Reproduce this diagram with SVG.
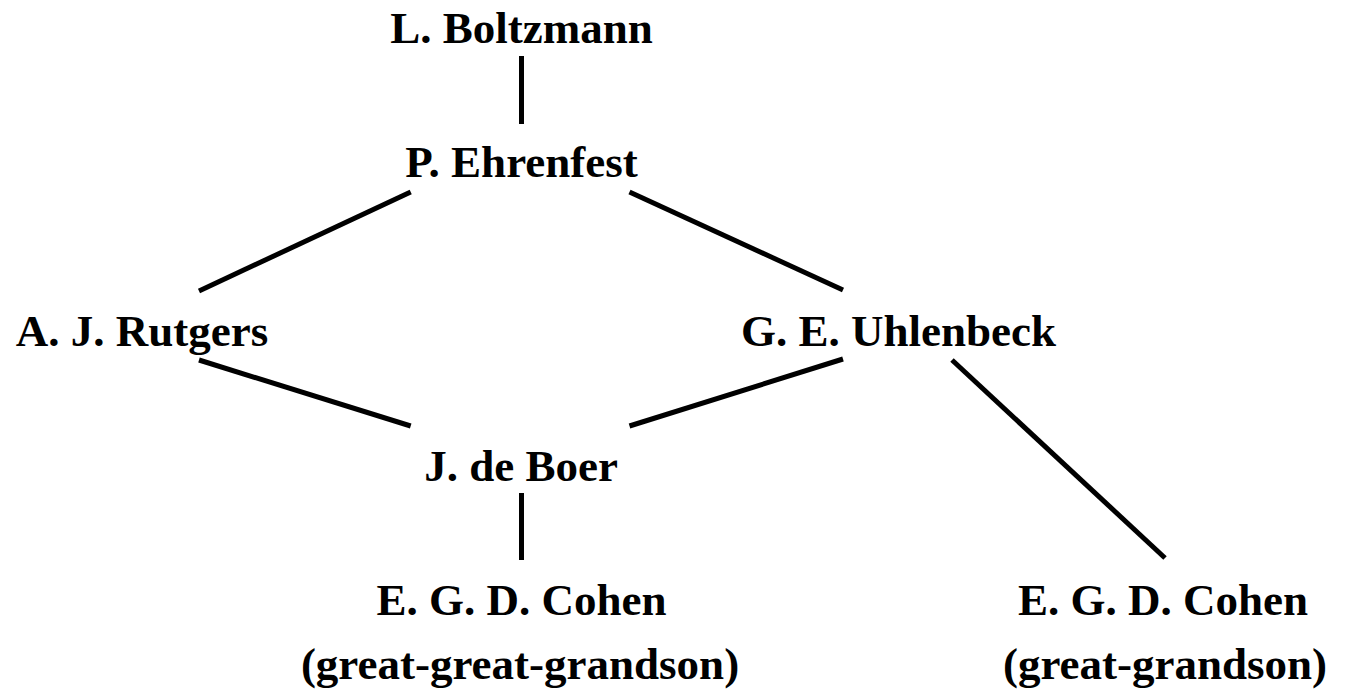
<svg xmlns="http://www.w3.org/2000/svg" width="1346" height="692" viewBox="0 0 1346 692">
<style>
  .lbl { font-family: "Liberation Serif", "Times New Roman", serif; font-weight: bold; font-size: 45px; fill: #000; text-anchor: middle; }
  .edge { stroke: #000; stroke-width: 5; fill: none; stroke-linecap: butt; }
</style>
<rect width="1346" height="692" fill="#fff"/>
<g id="connectors">
  <line class="edge" x1="521.5" y1="56" x2="521.5" y2="124"/>
  <line class="edge" x1="410.7" y1="192" x2="199" y2="291"/>
  <line class="edge" x1="629.5" y1="192" x2="843" y2="290"/>
  <line class="edge" x1="199" y1="360" x2="410.7" y2="426"/>
  <line class="edge" x1="843" y1="359" x2="629.5" y2="426"/>
  <line class="edge" x1="952" y1="360" x2="1165" y2="558"/>
  <line class="edge" x1="521.5" y1="493" x2="521.5" y2="560"/>
</g>
<g id="boltzmann"><text class="lbl" x="521.5" y="43">L. Boltzmann</text></g>
<g id="ehrenfest"><text class="lbl" x="521.5" y="177">P. Ehrenfest</text></g>
<g id="rutgers"><text class="lbl" x="142" y="346">A. J. Rutgers</text></g>
<g id="uhlenbeck"><text class="lbl" x="898.5" y="346">G. E. Uhlenbeck</text></g>
<g id="deboer"><text class="lbl" x="521" y="481">J. de Boer</text></g>
<g id="cohen1">
  <text class="lbl" x="521.5" y="615">E. G. D. Cohen</text>
  <text class="lbl" x="520" y="679">(great-great-grandson)</text>
</g>
<g id="cohen2">
  <text class="lbl" x="1163" y="615">E. G. D. Cohen</text>
  <text class="lbl" x="1165" y="679">(great-grandson)</text>
</g>
</svg>
